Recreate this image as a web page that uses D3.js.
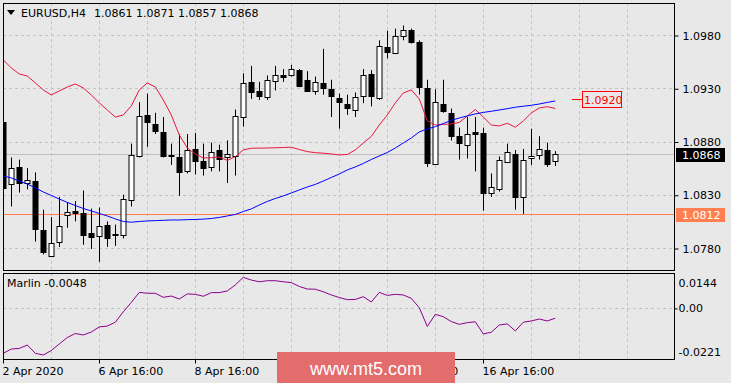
<!DOCTYPE html>
<html>
<head>
<meta charset="utf-8">
<script src="https://cdn.jsdelivr.net/npm/d3@7"></script>
<style>
body { margin: 0; background: #e8e8e8; }
text { font-family: "DejaVu Sans", sans-serif; font-size: 11px; }
</style>
</head>
<body>
<div id="chart"></div>
<script>
var width = 731, height = 383;

/* EURUSD H4 candles, 2 Apr 16:00 onwards */
var opens = [1.0898,1.0840,1.0856,1.0841,1.0843,1.0797,1.0773,1.0786,1.0811,1.0815,
  1.0813,1.0794,1.0792,1.0802,1.0793,1.0792,1.0825,1.0866,1.0905,1.0896,
  1.0889,1.0867,1.0865,1.0852,1.0873,1.0862,1.0856,1.0872,1.0865,1.0866,
  1.0903,1.0936,1.0927,1.0922,1.0936,1.0942,1.0942,1.0947,1.0938,1.0928,
  1.0935,1.0929,1.0921,1.0915,1.0910,1.0922,1.0943,1.0921,1.0969,1.0963,
  1.0979,1.0985,1.0973,1.0930,1.0859,1.0915,1.0907,1.0885,1.0877,1.0889,
  1.0888,1.0831,1.0836,1.0861,1.0868,1.0828,1.0864,1.0867,1.0872,1.0861];
var highs = [1.0902,1.0865,1.0863,1.0855,1.0851,1.0816,1.0809,1.0828,1.0823,1.0824,
  1.0834,1.0817,1.0818,1.0805,1.0802,1.0830,1.0878,1.0917,1.0925,1.0907,
  1.0903,1.0878,1.0887,1.0887,1.0888,1.0878,1.0879,1.0877,1.0881,1.0910,
  1.0944,1.0951,1.0936,1.0942,1.0951,1.0948,1.0952,1.0948,1.0946,1.0941,
  1.0967,1.0938,1.0925,1.0924,1.0926,1.0948,1.0947,1.0975,1.0984,1.0986,
  1.0989,1.0986,1.0975,1.0938,1.0929,1.0938,1.0911,1.0893,1.0903,1.0903,
  1.0893,1.0850,1.0866,1.0878,1.0872,1.0873,1.0892,1.0885,1.0879,1.0871];
var lows = [1.0833,1.0819,1.0832,1.0835,1.0786,1.0774,1.0772,1.0781,1.0799,1.0805,
  1.0783,1.0779,1.0767,1.0781,1.0782,1.0789,1.0819,1.0865,1.0875,1.0887,
  1.0865,1.0858,1.0829,1.0850,1.0849,1.0848,1.0852,1.0852,1.0841,1.0848,
  1.0894,1.0920,1.0919,1.0919,1.0928,1.0936,1.0941,1.0931,1.0927,1.0924,
  1.0924,1.0903,1.0892,1.0905,1.0903,1.0916,1.0913,1.0919,1.0958,1.0962,
  1.0975,1.0972,1.0924,1.0856,1.0858,1.0907,1.0881,1.0863,1.0864,1.0852,
  1.0815,1.0828,1.0833,1.0860,1.0816,1.0812,1.0858,1.0863,1.0856,1.0857];
var closes = [1.0836,1.0855,1.0841,1.0844,1.0798,1.0776,1.0785,1.0801,1.0814,1.0813,
  1.0792,1.0790,1.0801,1.0790,1.0792,1.0826,1.0867,1.0904,1.0898,1.0889,
  1.0866,1.0866,1.0851,1.0872,1.0862,1.0855,1.0870,1.0864,1.0868,1.0904,
  1.0935,1.0927,1.0922,1.0938,1.0942,1.0940,1.0948,1.0932,1.0928,1.0936,
  1.0930,1.0922,1.0917,1.0911,1.0922,1.0942,1.0922,1.0970,1.0964,1.0979,
  1.0985,1.0974,1.0931,1.0860,1.0917,1.0908,1.0885,1.0878,1.0887,1.0887,
  1.0832,1.0837,1.0863,1.0870,1.0828,1.0863,1.0866,1.0873,1.0859,1.0868];

// indicator lines on the price chart
var redLine = [1.09566,1.09491,1.09434,1.09415,1.0935,1.09284,1.09237,1.09275,1.09312,1.0934,
  1.09303,1.09237,1.09162,1.09096,1.0903,1.09049,1.09134,1.09284,1.0935,1.09312,
  1.0919,1.09049,1.08861,1.08739,1.08683,1.08645,1.08648,1.08655,1.08622,1.08658,
  1.08721,1.08737,1.08738,1.08739,1.08741,1.08744,1.08746,1.08725,1.08705,1.08695,
  1.0869,1.08683,1.08674,1.08678,1.08721,1.08786,1.08847,1.08955,1.09049,1.09162,
  1.09256,1.09284,1.09199,1.08993,1.08955,1.0896,1.08965,1.08979,1.0904,1.09101,
  1.0903,1.08955,1.08946,1.08971,1.08934,1.08993,1.09068,1.09115,1.09127,1.0911];
var blueLine = [1.08476,1.08458,1.08429,1.08401,1.08364,1.08326,1.08293,1.0826,1.08228,1.08199,
  1.08171,1.08148,1.08124,1.08101,1.08073,1.08049,1.08042,1.08049,1.08054,1.08057,
  1.0806,1.08063,1.08063,1.08066,1.08068,1.08071,1.08077,1.08087,1.08101,1.08115,
  1.08143,1.08167,1.08204,1.08237,1.08265,1.08289,1.08317,1.08345,1.08373,1.08397,
  1.08429,1.08462,1.08495,1.08533,1.08561,1.08594,1.08631,1.08664,1.08697,1.08739,
  1.08786,1.08833,1.0889,1.08918,1.08939,1.08969,1.08998,1.09021,1.0904,1.09059,
  1.09073,1.09084,1.09096,1.09108,1.09122,1.09131,1.0914,1.09152,1.09167,1.09181];

// Marlin oscillator
var marlin = [-0.0213,-0.0193,-0.0190,-0.0174,-0.0213,-0.0221,-0.0200,-0.0169,-0.0139,-0.0120,
  -0.0127,-0.0113,-0.0089,-0.0085,-0.0067,-0.0018,0.0026,0.0073,0.0069,0.0069,
  0.0050,0.0056,0.0042,0.0066,0.0064,0.0055,0.0072,0.0072,0.0080,0.0108,
  0.0144,0.0131,0.0123,0.0128,0.0128,0.0123,0.0119,0.0101,0.0089,0.0088,
  0.0076,0.0061,0.0049,0.0039,0.0040,0.0053,0.0028,0.0073,0.0059,0.0064,
  0.0061,0.0045,0.0001,-0.0087,-0.0030,-0.0041,-0.0064,-0.0077,-0.0069,-0.0065,
  -0.0122,-0.0114,-0.0080,-0.0075,-0.0108,-0.0067,-0.0061,-0.0052,-0.0061,-0.0048];

var priceTicks = [1.0780, 1.0830, 1.0880, 1.0930, 1.0980];
var marlinTicks = [0.0144, 0.00, -0.0221];
var marlinTickLabels = ["0.0144", "0.00", "-0.0221"];
var timeTickIdx = [0, 12, 24, 36, 48, 60];
var timeTickLabels = ["2 Apr 2020", "6 Apr 16:00", "8 Apr 16:00", "10 Apr 16:00", "14 Apr 16:00", "16 Apr 16:00"];
var bidPrice = 1.0868, lowLevel = 1.0812, markLevel = 1.0920;

// plain hyphen minus, like the terminal
var fmt4 = function(v){ return v.toFixed(4) };

var svg = d3.select('#chart').append('svg')
    .attr('width', width)
    .attr('height', height);

var mainL = 3, mainR = 674, mainT = 3, mainB = 270;
var subT = 273, subB = 359;

var x = d3.scaleLinear().domain([0, 69]).range([3.3, 555.3]);
var y = d3.scaleLinear().domain([1.0780, 1.0980]).range([248, 35]);
var ySub = d3.scaleLinear().domain([-0.0221, 0.0144]).range([355, 277.3]);

svg.append('clipPath').attr('id', 'clipMain')
  .append('rect').attr('x', mainL).attr('y', mainT).attr('width', mainR - mainL).attr('height', mainB - mainT);
svg.append('clipPath').attr('id', 'clipSub')
  .append('rect').attr('x', mainL).attr('y', subT).attr('width', mainR - mainL).attr('height', subB - subT);

/* grid */
var gridIdx = d3.range(6, 84, 6);
var grid = svg.append('g').attr('stroke', '#c4c4c4').attr('stroke-dasharray', '3,3');
grid.selectAll('.vg').data(gridIdx).enter().append('line')
    .attr('x1', function(d){ return Math.round(x(d)) + 0.5 })
    .attr('x2', function(d){ return Math.round(x(d)) + 0.5 })
    .attr('y1', mainT).attr('y2', mainB);
grid.selectAll('.vs').data(gridIdx).enter().append('line')
    .attr('x1', function(d){ return Math.round(x(d)) + 0.5 })
    .attr('x2', function(d){ return Math.round(x(d)) + 0.5 })
    .attr('y1', subT).attr('y2', subB);
grid.selectAll('.hg').data(priceTicks).enter().append('line')
    .attr('x1', mainL).attr('x2', mainR)
    .attr('y1', function(d){ return Math.round(y(d)) + 0.5 })
    .attr('y2', function(d){ return Math.round(y(d)) + 0.5 });
grid.append('line')
    .attr('x1', mainL).attr('x2', mainR)
    .attr('y1', Math.round(ySub(0)) + 0.5).attr('y2', Math.round(ySub(0)) + 0.5);

// bid line and low level line
svg.append('line')
    .attr('x1', mainL).attr('x2', mainR)
    .attr('y1', Math.round(y(bidPrice)) + 0.5).attr('y2', Math.round(y(bidPrice)) + 0.5)
    .attr('stroke', '#c0c0c0');
svg.append('line')
    .attr('x1', mainL).attr('x2', mainR)
    .attr('y1', Math.round(y(lowLevel)) + 0.5).attr('y2', Math.round(y(lowLevel)) + 0.5)
    .attr('stroke', '#ff7f50');

/* candles */
var idx = d3.range(opens.length);
var candles = svg.append('g').attr('clip-path', 'url(#clipMain)');
candles.selectAll('.wick').data(idx).enter().append('line')
    .attr('x1', function(i){ return Math.round(x(i)) + 0.5 })
    .attr('x2', function(i){ return Math.round(x(i)) + 0.5 })
    .attr('y1', function(i){ return y(highs[i]) })
    .attr('y2', function(i){ return y(lows[i]) })
    .attr('stroke', '#000');
candles.selectAll('.body').data(idx).enter().append('rect')
    .attr('x', function(i){ return Math.round(x(i)) - 2 })
    .attr('y', function(i){ return Math.round(y(Math.max(opens[i], closes[i]))) + 0.5 })
    .attr('width', 5)
    .attr('height', function(i){ return Math.max(1, Math.round(Math.abs(y(opens[i]) - y(closes[i])))) })
    .attr('fill', function(i){ return closes[i] >= opens[i] ? '#fff' : '#000' })
    .attr('stroke', '#000');

var lineFunc = d3.line()
    .x(function(d, i){ return x(i) })
    .y(function(d){ return y(d) });

svg.append('path')
    .attr('d', lineFunc(redLine))
    .attr('clip-path', 'url(#clipMain)')
    .attr('fill', 'none').attr('stroke', '#e8173f');
svg.append('path')
    .attr('d', lineFunc(blueLine))
    .attr('clip-path', 'url(#clipMain)')
    .attr('fill', 'none').attr('stroke', '#0000ff');

var subLine = d3.line()
    .x(function(d, i){ return x(i) })
    .y(function(d){ return ySub(d) });
svg.append('path')
    .attr('d', subLine(marlin))
    .attr('clip-path', 'url(#clipSub)')
    .attr('fill', 'none').attr('stroke', '#8b008b');

/* panel borders */
svg.append('rect')
    .attr('x', mainL + 0.5).attr('y', mainT + 0.5)
    .attr('width', mainR - mainL).attr('height', mainB - mainT)
    .attr('fill', 'none').attr('stroke', '#000');
svg.append('rect')
    .attr('x', mainL + 0.5).attr('y', subT + 0.5)
    .attr('width', mainR - mainL).attr('height', subB - subT)
    .attr('fill', 'none').attr('stroke', '#000');

/* axes */
var priceAxis = svg.append('g')
    .attr('transform', 'translate(' + (mainR + 0.5) + ',0.5)')
    .call(d3.axisRight(y).tickValues(priceTicks).tickSize(4).tickPadding(4).tickFormat(fmt4));
priceAxis.select('.domain').remove();
priceAxis.selectAll('text').attr('fill', '#000').style('font-size', '11px').style('font-family', '"DejaVu Sans", sans-serif');

var subAxis = svg.append('g')
    .attr('transform', 'translate(' + (mainR + 0.5) + ',0.5)')
    .call(d3.axisRight(ySub).tickValues(marlinTicks).tickSize(3).tickPadding(1)
      .tickFormat(function(d, i){ return marlinTickLabels[i] }));
subAxis.select('.domain').remove();
subAxis.selectAll('.tick').filter(function(d){ return d != 0 }).select('line').remove();
subAxis.selectAll('text').attr('fill', '#000').style('font-size', '11px').style('font-family', '"DejaVu Sans", sans-serif')
    .attr('y', function(d){ return d > 0 ? 5 : (d < 0 ? -4 : 0) });

var timeAxis = svg.append('g')
    .attr('transform', 'translate(0.5,' + (subB + 0.5) + ')')
    .call(d3.axisBottom(x).tickValues(timeTickIdx).tickSize(4).tickPadding(4)
      .tickFormat(function(d, i){ return timeTickLabels[i] }));
timeAxis.select('.domain').remove();
timeAxis.selectAll('.tick').attr('transform', function(d){ return 'translate(' + Math.round(x(d)) + ',0)' });
timeAxis.selectAll('text').attr('fill', '#000').attr('text-anchor', 'start').attr('x', -1)
    .style('font-size', '11px').style('font-family', '"DejaVu Sans", sans-serif');

/* price labels on the right */
function priceBox(p, fill, txt){
  var yy = Math.round(y(p));
  svg.append('rect').attr('x', 676).attr('y', yy - 6).attr('width', 49).attr('height', 14).attr('fill', fill);
  svg.append('text').attr('x', 682).attr('y', yy + 5).attr('fill', txt).text(fmt4(p));
}
priceBox(bidPrice, '#000', '#fff');
priceBox(lowLevel, '#ff7f50', '#fff');

var my = Math.round(y(markLevel)) + 0.5;
svg.append('line').attr('x1', 572).attr('x2', 582).attr('y1', my).attr('y2', my).attr('stroke', '#ff0000');
svg.append('rect').attr('x', 582.5).attr('y', my - 8).attr('width', 39).attr('height', 16)
    .attr('fill', 'none').attr('stroke', '#ff0000');
svg.append('text').attr('x', 584).attr('y', my + 4).attr('fill', '#ff0000').text(fmt4(markLevel));

/* titles */
svg.append('path').attr('d', 'M7,10 L15,10 L11,15 Z').attr('fill', '#000');
svg.append('text').attr('x', 21).attr('y', 17).attr('fill', '#000').text('EURUSD,H4');
svg.append('text').attr('x', 94).attr('y', 17).attr('fill', '#000')
    .text([opens[69], highs[69], lows[69], closes[69]].map(fmt4).join(' '));
svg.append('text').attr('x', 7).attr('y', 287).attr('fill', '#000')
    .text('Marlin ' + fmt4(marlin[marlin.length - 1]));

/* watermark, covers the middle time labels as in the terminal shot */
svg.append('rect').attr('x', 277).attr('y', 352).attr('width', 178).attr('height', 31).attr('fill', '#e36c6c');
svg.append('text').attr('x', 366).attr('y', 375).attr('text-anchor', 'middle').attr('fill', '#fff')
    .style('font-family', '"Liberation Sans", Arial, sans-serif').style('font-size', '18px')
    .text('www.mt5.com');
</script>
</body>
</html>
